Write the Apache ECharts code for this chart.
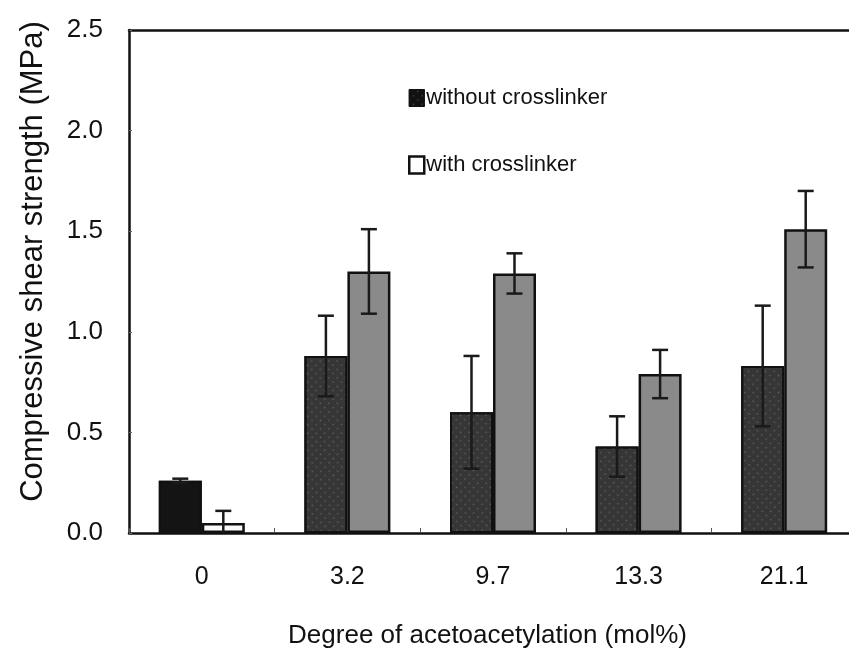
<!DOCTYPE html>
<html>
<head>
<meta charset="utf-8">
<script src="https://cdn.jsdelivr.net/npm/echarts@6/dist/echarts.min.js"></script>
<style>
html,body{margin:0;padding:0;background:#fff;overflow:hidden;}
#chart{width:860px;height:654px;}
</style>
</head>
<body>
<div id="chart"></div>
<script>
// Degree of acetoacetylation (mol%)
const categories = ['0', '3.2', '9.7', '13.3', '21.1'];
// Compressive shear strength (MPa), mean and standard deviation
const withoutCrosslinker = [0.26, 0.88, 0.60, 0.43, 0.83];
const withoutCrosslinkerErr = [0.01, 0.20, 0.28, 0.15, 0.30];
const withCrosslinker = [0.05, 1.30, 1.29, 0.79, 1.51];
const withCrosslinkerErr = [0.06, 0.21, 0.10, 0.12, 0.19];
const yTicks = [0, 0.5, 1.0, 1.5, 2.0, 2.5];

const BAR_W = 43;
const LABEL_FONT = '"Liberation Sans", Arial, sans-serif';

const chart = echarts.init(document.getElementById('chart'), null, {renderer: 'canvas'});

function errorSeries(name, values, errs, offset) {
  return {
    type: 'custom',
    name: name + ' SD',
    z: 10,
    silent: true,
    data: values.map((v, i) => [i, v, errs[i]]),
    renderItem: function (params, api) {
      const i = api.value(0), v = api.value(1), e = api.value(2);
      const hi = api.coord([i, v + e]);
      const lo = api.coord([i, Math.max(0, v - e)]);
      const x = hi[0] + offset;
      const cap = 8;
      const style = {stroke: '#1a1a1a', lineWidth: 2.5};
      const children = [
        {type: 'line', shape: {x1: x, y1: hi[1], x2: x, y2: lo[1]}, style: style},
        {type: 'line', shape: {x1: x - cap, y1: hi[1], x2: x + cap, y2: hi[1]}, style: style}
      ];
      if (v - e > 0) {
        children.push({type: 'line', shape: {x1: x - cap, y1: lo[1], x2: x + cap, y2: lo[1]}, style: style});
      }
      return {type: 'group', children: children};
    }
  };
}

const option = {
  animation: false,
  backgroundColor: '#ffffff',
  grid: {left: 129, top: 30, width: 728, height: 503, containLabel: false},
  legend: {
    orient: 'vertical',
    left: 403,
    top: 82,
    itemGap: 45,
    itemWidth: 15,
    itemHeight: 17,
    icon: 'rect',
    textStyle: {fontFamily: LABEL_FONT, fontSize: 22, color: '#111', padding: [0, 0, 0, -3]},
    data: [
      {name: 'without crosslinker', itemStyle: {color: '#111', borderColor: '#111', borderWidth: 1}},
      {name: 'with crosslinker', itemStyle: {color: '#fff', borderColor: '#111', borderWidth: 2.5}}
    ]
  },
  xAxis: [{
    type: 'category',
    data: categories,
    position: 'bottom',
    axisLine: {show: true, lineStyle: {color: '#111', width: 2.5}},
    axisTick: {show: true, inside: true, length: 5, lineStyle: {color: '#555', width: 1}},
    axisLabel: {fontFamily: LABEL_FONT, fontSize: 25, color: '#111', margin: 32},
    name: 'Degree of acetoacetylation (mol%)',
    nameLocation: 'middle',
    nameGap: 90,
    nameTextStyle: {fontFamily: LABEL_FONT, fontSize: 26, color: '#111', padding: [0, 11, 0, 0]}
  }, {
    type: 'category',
    data: categories,
    position: 'top',
    axisLine: {show: true, lineStyle: {color: '#111', width: 2.5}},
    axisTick: {show: false},
    axisLabel: {show: false}
  }],
  yAxis: {
    type: 'value',
    min: yTicks[0],
    max: yTicks[yTicks.length - 1],
    interval: 0.5,
    axisLine: {show: true, lineStyle: {color: '#111', width: 2.5}},
    axisTick: {show: true, inside: true, length: 3, lineStyle: {color: '#666', width: 1}},
    splitLine: {show: false},
    axisLabel: {
      fontFamily: LABEL_FONT, fontSize: 26, color: '#111', margin: 26,
      formatter: v => v.toFixed(1)
    },
    name: 'Compressive shear strength (MPa)',
    nameLocation: 'middle',
    nameGap: 80,
    nameTextStyle: {fontFamily: LABEL_FONT, fontSize: 31, color: '#111', padding: [0, 0, 0, 40]}
  },
  series: [
    {
      type: 'bar',
      name: 'without crosslinker',
      barWidth: BAR_W,
      barGap: '0%',
      itemStyle: {
        color: '#363636', borderColor: '#111', borderWidth: 2,
        decal: {symbol: 'circle', symbolSize: 0.5, dashArrayX: [[3, 3]], dashArrayY: [3, 3], color: 'rgba(200,200,200,0.35)', rotation: 0.78}
      },
      data: withoutCrosslinker.map((v, i) => i === 0
        ? {value: v, itemStyle: {color: '#141414', decal: {symbol: 'none'}}}
        : v)
    },
    {
      type: 'bar',
      name: 'with crosslinker',
      barWidth: BAR_W,
      barGap: '0%',
      itemStyle: {color: '#8a8a8a', borderColor: '#111', borderWidth: 2.5},
      data: withCrosslinker.map((v, i) => i === 0
        ? {value: v, itemStyle: {color: '#fafafa'}}
        : v)
    },
    errorSeries('without crosslinker', withoutCrosslinker, withoutCrosslinkerErr, -BAR_W / 2),
    errorSeries('with crosslinker', withCrosslinker, withCrosslinkerErr, BAR_W / 2)
  ]
};

chart.setOption(option);
</script>
</body>
</html>
